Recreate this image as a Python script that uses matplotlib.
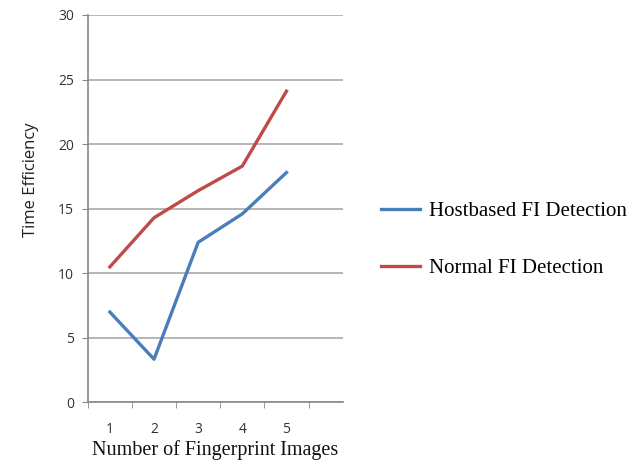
import matplotlib
matplotlib.use("Agg")
import matplotlib.pyplot as plt

images = [1, 2, 3, 4, 5]
hostbased = [7.0, 3.35, 12.4, 14.6, 17.8]
normal = [10.5, 14.3, 16.4, 18.3, 24.1]

fig = plt.figure(figsize=(6.41, 4.68), dpi=100)
ax = fig.add_axes([0.137, 0.14, 0.398, 0.828])

ax.plot(images, hostbased, color='#4A7EBB', linewidth=2.4, label='Hostbased FI Detection')
ax.plot(images, normal, color='#BE4B48', linewidth=2.4, label='Normal FI Detection')

ax.set_xlim(0.5, 6.28)
ax.set_ylim(0, 30)
ax.set_yticks(range(0, 31, 5))
ax.set_xticks(images)
ax.set_xticks([0.5, 1.5, 2.5, 3.5, 4.5, 5.5], minor=True)
ax.tick_params(axis='x', which='major', length=0, pad=14, labelsize=10, labelcolor='#333333')
ax.tick_params(axis='x', which='minor', length=4, color='#888888', direction='out')
ax.tick_params(axis='y', length=4, color='#888888', labelsize=10, labelcolor='#333333', pad=6)
for lab in ax.get_xticklabels() + ax.get_yticklabels():
    lab.set_family('Open Sans')

ax.grid(axis='y', color='#B0B0B0', linewidth=1.3)
ax.set_axisbelow(True)
for s in ['top', 'right']:
    ax.spines[s].set_visible(False)
ax.spines['left'].set_color('#888888')
ax.spines['bottom'].set_color('#888888')
ax.spines['left'].set_linewidth(1.2)
ax.spines['bottom'].set_linewidth(1.2)

ax.set_ylabel('Time Efficiency', family='Open Sans', fontsize=12, color='#222222')
ax.yaxis.set_label_coords(-0.19, 0.576)
ax.set_xlabel('Number of Fingerprint Images', family='Liberation Serif', fontsize=14.5, color='#111111', labelpad=2)

ax.legend(loc='center left', bbox_to_anchor=(1.075, 0.42), frameon=False,
          prop={'family': 'Liberation Serif', 'size': 15}, labelspacing=1.8,
          handlelength=1.9, handletextpad=0.4)

fig.savefig('out.png', dpi=100)
